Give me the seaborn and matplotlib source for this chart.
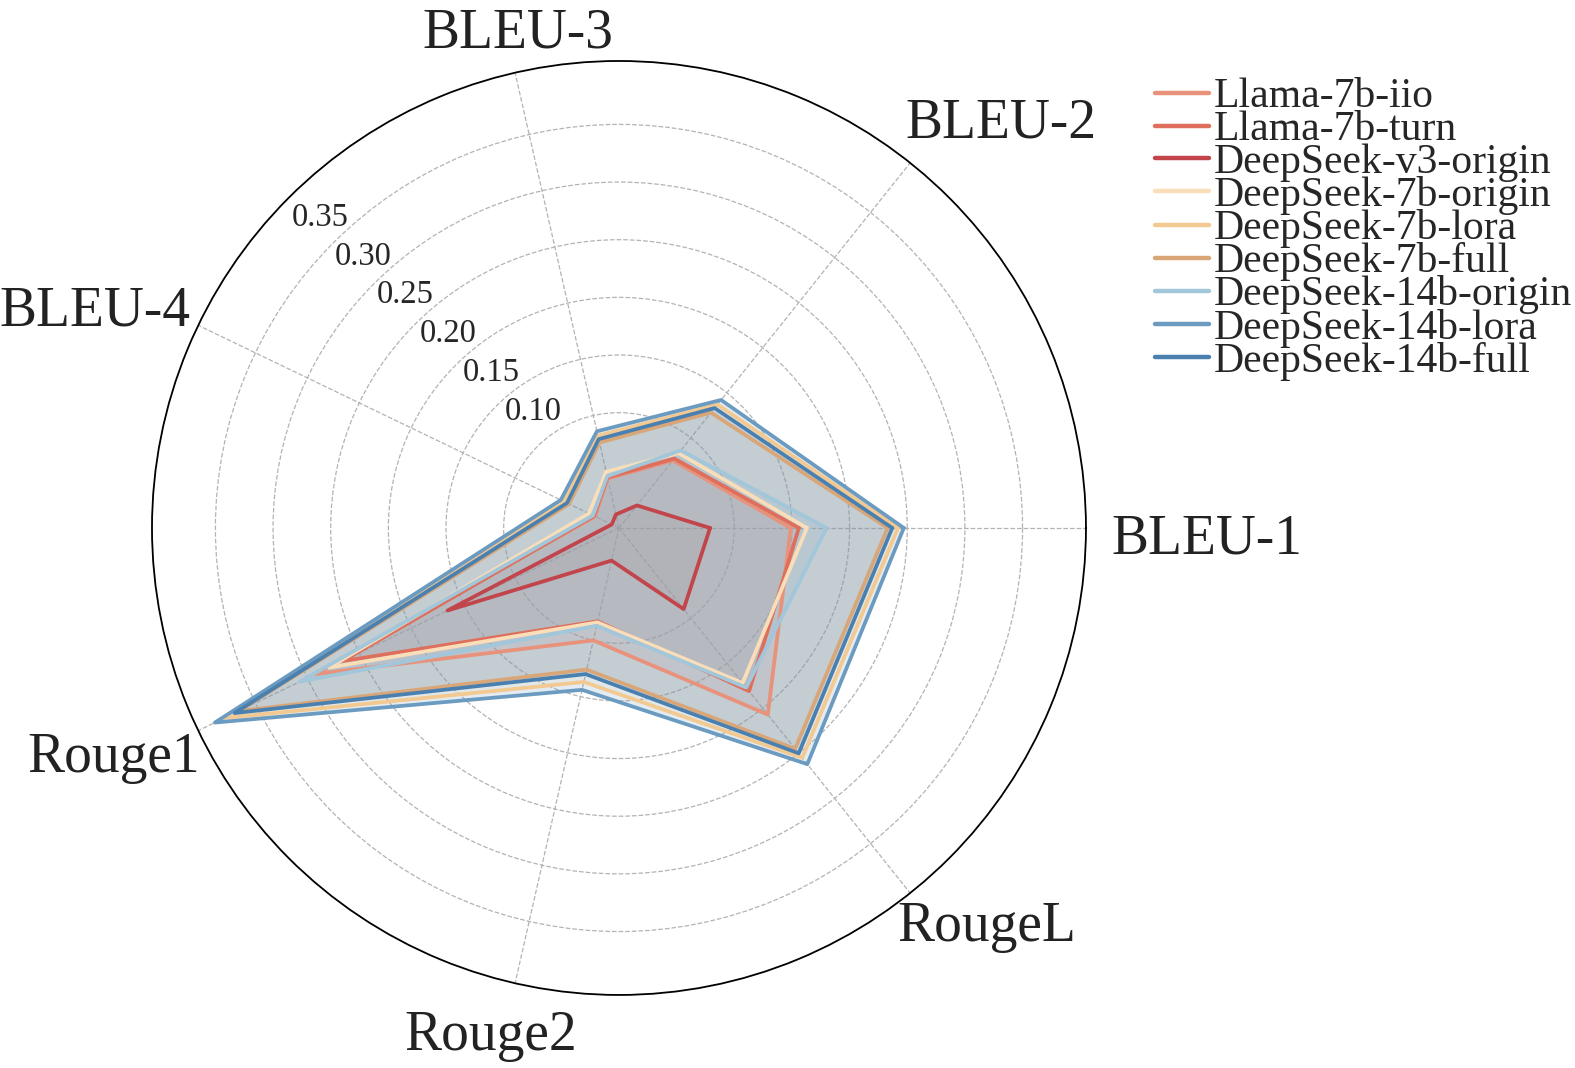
import numpy as np
import matplotlib
matplotlib.use("Agg")
import matplotlib.pyplot as plt
from matplotlib.transforms import ScaledTranslation
import seaborn as sns

# ---------------- data ----------------
categories = ["BLEU-1", "BLEU-2", "BLEU-3", "BLEU-4", "Rouge1", "Rouge2", "RougeL"]
models = [
    "Llama-7b-iio",
    "Llama-7b-turn",
    "DeepSeek-v3-origin",
    "DeepSeek-7b-origin",
    "DeepSeek-7b-lora",
    "DeepSeek-7b-full",
    "DeepSeek-14b-origin",
    "DeepSeek-14b-lora",
    "DeepSeek-14b-full",
]
llama_7b_iio = [0.149, 0.075, 0.044, 0.023, 0.292, 0.100, 0.207]
llama_7b_turn = [0.156, 0.077, 0.045, 0.024, 0.266, 0.083, 0.181]
deepseek_v3_origin = [0.079, 0.025, 0.012, 0.007, 0.165, 0.029, 0.090]
deepseek_7b_origin = [0.163, 0.083, 0.050, 0.029, 0.279, 0.084, 0.172]
deepseek_7b_lora = [0.242, 0.137, 0.082, 0.053, 0.380, 0.137, 0.255]
deepseek_7b_full = [0.233, 0.128, 0.076, 0.048, 0.366, 0.126, 0.245]
deepseek_14b_origin = [0.180, 0.086, 0.046, 0.025, 0.307, 0.087, 0.177]
deepseek_14b_lora = [0.247, 0.142, 0.086, 0.056, 0.389, 0.144, 0.262]
deepseek_14b_full = [0.237, 0.133, 0.079, 0.050, 0.370, 0.130, 0.250]
colors = [
    "#E8927C", "#DE6F5C", "#C1454B",
    "#F9DEB9", "#F3C992", "#D9A678",
    "#A2C6DA", "#6B9BC0", "#4A80B0",
]
fill_alphas = [0.13, 0.13, 0.13, 0.13, 0.13, 0.13, 0.18, 0.18, 0.18]
r_ticks = [0.10, 0.15, 0.20, 0.25, 0.30, 0.35]
r_tick_labels = ["0.10", "0.15", "0.20", "0.25", "0.30", "0.35"]

series = [llama_7b_iio, llama_7b_turn, deepseek_v3_origin,
          deepseek_7b_origin, deepseek_7b_lora, deepseek_7b_full,
          deepseek_14b_origin, deepseek_14b_lora, deepseek_14b_full]

# offsets (points) of each category label from its spoke's end on the rim
label_offsets_pt = [(18.7, -4.0), (-3.6, 9.4), (1.8, 9.4), (-5.8, -8.6),
                    (1.4, -0.7), (-17.3, -19.5), (-9.4, -5.8)]

# ---------------- style ----------------
sns.set_theme(style="white")
plt.rcParams["font.family"] = ["Liberation Serif", "DejaVu Serif"]
plt.rcParams["axes.unicode_minus"] = False

fig = plt.figure(figsize=(15.75, 10.68), dpi=100)
ax = fig.add_axes([0.0965, 0.0684, 0.593, 0.8745], projection="polar")

n = len(categories)
angles = np.linspace(0, 2 * np.pi, n, endpoint=False)
theta_closed = np.concatenate([angles, angles[:1] + 2 * np.pi])

for name, vals, col, fa in zip(models, series, colors, fill_alphas):
    v = np.concatenate([vals, vals[:1]])
    ax.fill(theta_closed, v, color=col, alpha=fa, lw=0, zorder=2)
    sns.lineplot(x=theta_closed, y=v, ax=ax, color=col, linewidth=2.7,
                 sort=False, label=name, zorder=3)

r_max = 0.405
ax.set_ylim(0, r_max)
ax.set_yticks(r_ticks)
ax.set_yticklabels(r_tick_labels, fontsize=23.5)
ax.set_rlabel_position(137.8)
for lab in ax.get_yticklabels():
    lab.set_horizontalalignment("center")
    lab.set_verticalalignment("bottom")
    lab.set_transform(lab.get_transform() +
                      ScaledTranslation(0, 0.24, fig.dpi_scale_trans))

ax.set_xticks(angles)
ax.set_xticklabels([])
for cat, a, (ox, oy) in zip(categories, angles, label_offsets_pt):
    c, s = np.cos(a), np.sin(a)
    ha = "left" if c > 0.3 else ("right" if c < -0.3 else "center")
    if s > 0.3:
        va = "bottom"
    elif s < -0.3:
        va = "top"
    else:
        va = "center_baseline"
    ax.annotate(cat, xy=(a, r_max), xytext=(ox, oy), textcoords="offset points",
                ha=ha, va=va, fontsize=40, color="#222222", annotation_clip=False)

ax.grid(True, color="#b3b3b3", linestyle="--", linewidth=0.9)
ax.spines["polar"].set_color("black")
ax.spines["polar"].set_linewidth(1.3)
ax.set_xlabel("")
ax.set_ylabel("")

leg = ax.legend(loc="upper left", bbox_to_anchor=(0.7335, 0.927),
                bbox_transform=fig.transFigure, frameon=False, fontsize=30,
                labelspacing=-0.14, handlelength=1.3, handletextpad=0.1,
                borderpad=0, borderaxespad=0)
for line in leg.get_lines():
    line.set_linewidth(3.2)

fig.savefig("out.png", dpi=100)
